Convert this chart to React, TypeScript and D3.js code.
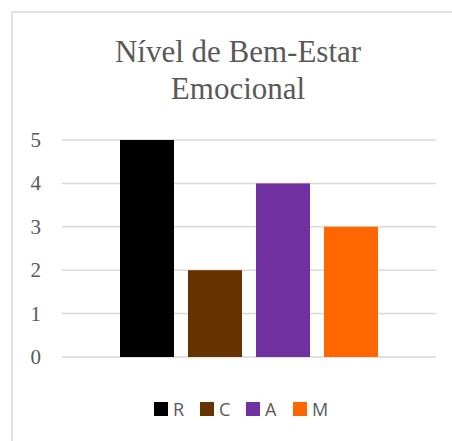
import React from "react";
import * as d3 from "d3";

const titleLines = ["Nível de Bem-Estar", "Emocional"];
const series = ["R", "C", "A", "M"];
const values = [5, 2, 4, 3];
const colors = ["#000000", "#663300", "#7030A0", "#FF6600"];
const yTicks = [0, 1, 2, 3, 4, 5];

const W = 452;
const H = 441;

const serif = { fontFamily: "'Liberation Serif'" };
const sans = { fontFamily: "'Open Sans'" };

export default function App() {
  const y = d3.scaleLinear().domain([0, 5]).range([357, 140]);
  const x = d3
    .scaleBand<string>()
    .domain(series)
    .range([113, 385])
    .paddingInner(14 / 68)
    .paddingOuter(7 / 68);

  const legendX = [154, 200, 246, 293];

  return (
    <div style={{ position: "absolute", left: 0, top: 0 }}>
      <svg width={W} height={H} style={{ display: "block", background: "#fff" }}>
        <rect x={0} y={0} width={W} height={H} fill="#fff" />
        <line x1={12} y1={12} x2={W} y2={12} stroke="#d9d9d9" strokeWidth={1.5} />
        <line x1={12} y1={12} x2={12} y2={H} stroke="#d9d9d9" strokeWidth={1.5} />
        {titleLines.map((t, i) => (
          <text
            key={t}
            x={238}
            y={61.7 + i * 37.3}
            textAnchor="middle"
            style={serif}
            fontSize={31}
            fill="#595959"
          >
            {t}
          </text>
        ))}
        {yTicks.map((t) => (
          <g key={t}>
            <line x1={62} x2={436} y1={y(t)} y2={y(t)} stroke="#d9d9d9" strokeWidth={1.5} />
            <text
              x={41}
              y={y(t)}
              dy="0.33em"
              textAnchor="end"
              style={serif}
              fontSize={21}
              fill="#595959"
            >
              {t}
            </text>
          </g>
        ))}
        {series.map((s, i) => (
          <rect
            key={s}
            x={x(s)}
            y={y(values[i])}
            width={x.bandwidth()}
            height={y(0) - y(values[i])}
            fill={colors[i]}
          />
        ))}
        {series.map((s, i) => (
          <g key={s}>
            <rect x={legendX[i]} y={402} width={14} height={14} fill={colors[i]} />
            <text
              x={legendX[i] + 19}
              y={415.5}
              style={sans}
              fontSize={18}
              fill="#595959"
            >
              {s}
            </text>
          </g>
        ))}
      </svg>
    </div>
  );
}
